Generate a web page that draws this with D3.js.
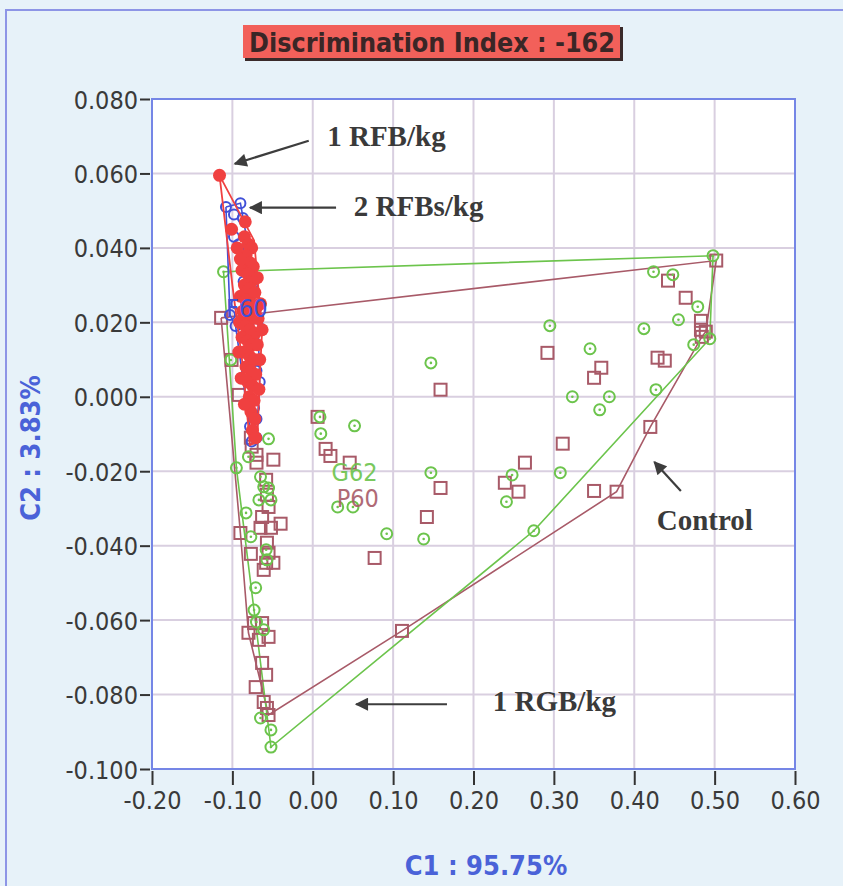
<!DOCTYPE html>
<html><head><meta charset="utf-8">
<script src="https://cdn.jsdelivr.net/npm/d3@7"></script>
<style>
body{margin:0;background:#e7f2f9;overflow:hidden;}
svg{display:block;}
</style></head>
<body>
<svg id="chart" width="843" height="886"></svg>
<script>
// ---------- data ----------
const titleText = "Discrimination Index : -162";
const xTicks = [-0.2,-0.1,0,0.1,0.2,0.3,0.4,0.5,0.6];
const yTicks = [0.08,0.06,0.04,0.02,0,-0.02,-0.04,-0.06,-0.08,-0.1];
const xTitle = "C1 : 95.75%";
const yTitle = "C2 : 3.83%";

// red: 1 RFB/kg (filled circles)
const redPts = [[-0.116,0.0595],[-0.101,0.045],[-0.085,0.043],[-0.080,0.041],[-0.076,0.040],[-0.083,0.038],[-0.078,0.036],[-0.074,0.035],[-0.088,0.034],[-0.081,0.033],[-0.076,0.031],[-0.085,0.030],[-0.079,0.029],[-0.072,0.028],[-0.090,0.027],[-0.083,0.026],[-0.077,0.025],[-0.070,0.024],[-0.087,0.023],[-0.081,0.022],[-0.075,0.021],[-0.068,0.021],[-0.091,0.020],[-0.084,0.019],[-0.078,0.018],[-0.072,0.017],[-0.088,0.016],[-0.081,0.015],[-0.075,0.014],[-0.069,0.014],[-0.086,0.012],[-0.079,0.011],[-0.073,0.010],[-0.083,0.008],[-0.077,0.007],[-0.071,0.006],[-0.081,0.004],[-0.075,0.003],[-0.079,0.000],[-0.073,-0.001],[-0.077,-0.004],[-0.072,-0.006],[-0.075,-0.009],[-0.071,-0.011],[-0.065,0.025],[-0.063,0.018],[-0.092,0.012],[-0.089,0.005],[-0.066,0.010],[-0.067,0.002],[-0.085,-0.002],[-0.069,0.032],[-0.090,0.037],[-0.084,0.047],[-0.094,0.040]];
const redHull = [[-0.116,0.0595],[-0.073,0.042],[-0.068,0.030],[-0.063,0.018],[-0.066,0.005],[-0.069,-0.012],[-0.078,-0.013],[-0.088,0.010],[-0.100,0.030],[-0.116,0.0595]];

// blue: 2 RFBs/kg (open circles)
const bluePts = [[-0.108,0.051],[-0.098,0.049],[-0.090,0.052],[-0.087,0.048],[-0.098,0.043],[-0.092,0.041],[-0.079,0.036],[-0.086,0.031],[-0.095,0.025],[-0.103,0.022],[-0.096,0.019],[-0.075,0.030],[-0.071,0.022],[-0.068,0.019],[-0.070,0.007],[-0.066,0.004],[-0.073,-0.003],[-0.070,-0.006],[-0.078,-0.008],[-0.070,-0.011],[-0.076,-0.012],[-0.083,0.008],[-0.080,0.040]];
const blueHull = [[-0.108,0.051],[-0.090,0.052],[-0.080,0.040],[-0.068,0.019],[-0.066,0.004],[-0.070,-0.011],[-0.076,-0.012],[-0.096,0.019],[-0.103,0.022],[-0.108,0.051]];

// green: 1 RGB/kg (circles with dot)
const greenPts = [[0.295,0.0191],[0.345,0.0129],[0.412,0.0183],[0.424,0.0336],[0.448,0.0328],[0.479,0.0242],[0.455,0.0207],[0.498,0.0379],[0.474,0.0140],[0.494,0.0156],[0.357,-0.0035],[0.369,0.0],[0.323,0.0],[0.427,0.0019],[0.147,0.0091],[0.147,-0.0204],[0.248,-0.0210],[0.308,-0.0204],[0.241,-0.0282],[0.275,-0.0360],[0.092,-0.0368],[0.138,-0.0382],[0.031,-0.0296],[0.050,-0.0296],[0.009,-0.0054],[0.010,-0.0099],[0.052,-0.0078],[-0.055,-0.0113],[-0.095,-0.0191],[-0.080,-0.0161],[-0.065,-0.0215],[-0.061,-0.0242],[-0.055,-0.0245],[-0.067,-0.0277],[-0.052,-0.0277],[-0.083,-0.0312],[-0.077,-0.0376],[-0.058,-0.0411],[-0.057,-0.0438],[-0.071,-0.0513],[-0.073,-0.0573],[-0.070,-0.0605],[-0.061,-0.0626],[-0.065,-0.0863],[-0.052,-0.0895],[-0.052,-0.0941],[-0.111,0.0336],[-0.102,0.0099]];
const greenHull = [[-0.111,0.0336],[0.498,0.0379],[0.494,0.0156],[0.275,-0.0360],[-0.052,-0.0941],[-0.095,-0.0191],[-0.111,0.0336]];

// maroon: Control (open squares)
const maroonPts = [[-0.049,-0.0169],[-0.076,-0.0134],[-0.070,-0.0156],[-0.070,-0.0177],[-0.058,-0.0223],[-0.057,-0.0263],[-0.055,-0.0296],[-0.063,-0.0323],[-0.040,-0.0341],[-0.065,-0.0352],[-0.052,-0.0352],[-0.090,-0.0366],[-0.057,-0.0392],[-0.077,-0.0422],[-0.055,-0.0419],[-0.058,-0.0446],[-0.049,-0.0446],[-0.061,-0.0465],[-0.080,-0.0634],[-0.073,-0.0608],[-0.063,-0.0608],[-0.055,-0.0645],[-0.067,-0.0653],[-0.063,-0.0715],[-0.058,-0.0747],[-0.071,-0.0780],[-0.061,-0.0820],[-0.057,-0.0836],[-0.055,-0.0855],[-0.114,0.0212],[-0.092,0.0005],[-0.101,0.0099],[-0.077,-0.011],[0.292,0.0118],[0.159,0.0019],[0.350,0.0051],[0.359,0.0078],[0.006,-0.0054],[0.016,-0.0140],[0.022,-0.0159],[0.046,-0.0177],[0.159,-0.0245],[0.239,-0.0231],[0.256,-0.0255],[0.264,-0.0177],[0.311,-0.0126],[0.350,-0.0253],[0.142,-0.0323],[0.077,-0.0433],[0.378,-0.0255],[0.420,-0.0081],[0.429,0.0105],[0.438,0.0097],[0.442,0.0312],[0.464,0.0266],[0.502,0.0366],[0.483,0.0204],[0.483,0.0180],[0.484,0.0161],[0.489,0.0175],[0.111,-0.0629]];
const maroonHull = [[-0.114,0.0212],[0.502,0.0366],[0.489,0.0175],[0.484,0.0161],[0.420,-0.0081],[0.378,-0.0255],[0.111,-0.0629],[-0.055,-0.0855],[-0.080,-0.0634],[-0.090,-0.0366],[-0.114,0.0212]];

// group labels (centroid captions)
const groupLabels = [
  {text:"G62", x:0.052, y:-0.0225, color:"#6cc44c"},
  {text:"P60", x:0.056, y:-0.0295, color:"#a85a68"},
  {text:"F60", x:-0.082, y:0.0215, color:"#4050d8"}
];
// annotations (text position in data units, arrow from -> to in data units)
const notes = [
  {text:"1 RFB/kg",  tx:0.018, ty:0.0675, ax0:-0.005, ay0:0.0688, ax1:-0.097, ay1:0.0626},
  {text:"2 RFBs/kg", tx:0.051, ty:0.0485, ax0:0.029, ay0:0.0508, ay1:0.0508, ax1:-0.078},
  {text:"1 RGB/kg",  tx:0.224, ty:-0.0845, ax0:0.167, ay0:-0.0826, ax1:0.054, ay1:-0.0826},
  {text:"Control",   tx:0.428, ty:-0.0358, ax0:0.458, ay0:-0.0253, ax1:0.425, ay1:-0.0175}
];

// ---------- drawing ----------
const svg = d3.select("#chart");
const L=152, R=795, T=99, B=769;
const x = d3.scaleLinear().domain([-0.2,0.6]).range([L,R]);
const y = d3.scaleLinear().domain([-0.1,0.08]).range([B,T]);
const hy = f => s => d3.format(f)(s).replace("\u2212","-");

// outer frame
svg.append("rect").attr("x",6).attr("y",10).attr("width",900).attr("height",900)
  .attr("fill","#e7f2f9").attr("stroke","#8d95e6").attr("stroke-width",2);

// title box
const tg = svg.append("g");
tg.append("rect").attr("x",245).attr("y",27).attr("width",378).attr("height",34).attr("fill","#3a2a2a");
tg.append("rect").attr("x",243).attr("y",25).attr("width",377).attr("height",33).attr("fill","#f2605a");
tg.append("text").attr("x",249).attr("y",52).text(titleText)
  .attr("font-family","'DejaVu Sans Condensed',Arial,sans-serif")
  .attr("font-weight","bold").attr("font-size",27).attr("fill","#3a2626")
  .attr("textLength",366).attr("lengthAdjust","spacingAndGlyphs");

// plot area
svg.append("rect").attr("x",L).attr("y",T).attr("width",R-L).attr("height",B-T).attr("fill","#ffffff");
const grid = svg.append("g");
xTicks.forEach(t=>grid.append("line").attr("x1",x(t)).attr("x2",x(t)).attr("y1",T).attr("y2",B)
  .attr("stroke","#d9cfe0").attr("stroke-width",2));
yTicks.forEach(t=>grid.append("line").attr("y1",y(t)).attr("y2",y(t)).attr("x1",L).attr("x2",R)
  .attr("stroke","#d9cfe0").attr("stroke-width",2));

// axes
const tickFont = "'DejaVu Sans Condensed',Arial,sans-serif";
const xAxis = svg.append("g").attr("transform",`translate(0,${B+2})`)
  .call(d3.axisBottom(x).tickValues(xTicks).tickFormat(hy(".2f")).tickSize(14).tickPadding(5));
const yAxis = svg.append("g").attr("transform",`translate(${L-2},0)`)
  .call(d3.axisLeft(y).tickValues(yTicks).tickFormat(hy(".3f")).tickSize(10).tickPadding(2));
[xAxis,yAxis].forEach(a=>{
  a.select(".domain").remove();
  a.selectAll(".tick line").attr("stroke","#333").attr("stroke-width",2);
  a.selectAll(".tick text").attr("font-family",tickFont).attr("font-size",25).attr("fill","#3a3a3a");
});
yAxis.selectAll(".tick text").attr("dy","0.36em");
xAxis.selectAll(".tick text").attr("dy","0.75em");

// axis titles
svg.append("text").attr("x",486).attr("y",875).attr("text-anchor","middle").text(xTitle)
  .attr("font-family",tickFont).attr("font-weight","bold").attr("font-size",27).attr("fill","#4a62d8");
svg.append("text").attr("transform","translate(40,448) rotate(-90)").attr("text-anchor","middle").text(yTitle)
  .attr("font-family",tickFont).attr("font-weight","bold").attr("font-size",27).attr("fill","#4a62d8");

const plot = svg.append("g");
const line = d3.line().x(d=>x(d[0])).y(d=>y(d[1]));
const GREEN="#6cc44c", MAROON="#a85a68", BLUE="#4050d8", RED="#f04040";

// hulls
plot.append("path").attr("d",line(maroonHull)).attr("fill","none").attr("stroke",MAROON).attr("stroke-width",1.6);
plot.append("path").attr("d",line(greenHull)).attr("fill","none").attr("stroke",GREEN).attr("stroke-width",1.6);

// maroon squares
plot.selectAll(".sq").data(maroonPts).join("rect")
  .attr("x",d=>x(d[0])-6).attr("y",d=>y(d[1])-6).attr("width",12).attr("height",12)
  .attr("fill","none").attr("stroke",MAROON).attr("stroke-width",2);
// green circles
const gp = plot.selectAll(".gc").data(greenPts).join("g");
gp.append("circle").attr("cx",d=>x(d[0])).attr("cy",d=>y(d[1])).attr("r",5.5)
  .attr("fill","none").attr("stroke",GREEN).attr("stroke-width",2);
gp.append("circle").attr("cx",d=>x(d[0])).attr("cy",d=>y(d[1])).attr("r",1.3).attr("fill",GREEN);

// group labels G62 / P60
groupLabels.slice(0,2).forEach(g=>{
  plot.append("text").attr("x",x(g.x)).attr("y",y(g.y)).attr("text-anchor","middle").text(g.text)
    .attr("font-family","'DejaVu Sans Condensed',sans-serif").attr("font-size",25)
    .attr("fill",g.color).attr("opacity",0.9);
});

// blue
plot.append("path").attr("d",line(blueHull)).attr("fill","none").attr("stroke",BLUE).attr("stroke-width",1.6);
plot.selectAll(".bc").data(bluePts).join("circle")
  .attr("cx",d=>x(d[0])).attr("cy",d=>y(d[1])).attr("r",5)
  .attr("fill","none").attr("stroke",BLUE).attr("stroke-width",2);
// red
plot.append("path").attr("d",line(redHull)).attr("fill","none").attr("stroke",RED).attr("stroke-width",1.8);
plot.selectAll(".rc").data(redPts).join("circle")
  .attr("cx",d=>x(d[0])).attr("cy",d=>y(d[1])).attr("r",6.5).attr("fill",RED);
// F60 label
const fl = groupLabels[2];
plot.append("text").attr("x",x(fl.x)).attr("y",y(fl.y)).attr("text-anchor","middle").text(fl.text)
  .attr("font-family","'DejaVu Sans Condensed',sans-serif").attr("font-size",25)
  .attr("fill",fl.color);

// plot border
svg.append("rect").attr("x",L).attr("y",T).attr("width",R-L).attr("height",B-T)
  .attr("fill","none").attr("stroke","#7586e6").attr("stroke-width",2);

// annotations
const defs = svg.append("defs");
defs.append("marker").attr("id","ah").attr("viewBox","0 0 10 10").attr("refX",9).attr("refY",5)
  .attr("markerWidth",7).attr("markerHeight",6).attr("markerUnits","strokeWidth").attr("orient","auto")
  .append("path").attr("d","M0,0 L10,5 L0,10 Z").attr("fill","#3d3d3d");
const an = svg.append("g");
notes.forEach(n=>{
  an.append("line").attr("x1",x(n.ax0)).attr("y1",y(n.ay0)).attr("x2",x(n.ax1)).attr("y2",y(n.ay1))
    .attr("stroke","#3d3d3d").attr("stroke-width",2.2).attr("marker-end","url(#ah)");
  an.append("text").attr("x",x(n.tx)).attr("y",y(n.ty)).text(n.text)
    .attr("font-family","'Liberation Serif','Times New Roman',serif").attr("font-weight","bold")
    .attr("font-size",29).attr("fill","#3a3a3a");
});
</script>
</body></html>
